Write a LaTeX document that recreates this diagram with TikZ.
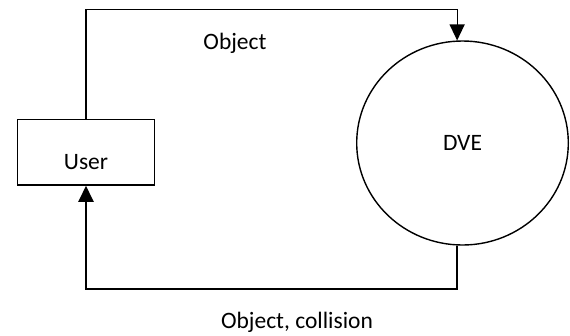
\documentclass[tikz,border=0pt]{standalone}
\usepackage{fontspec}
\setmainfont{Carlito}
\usetikzlibrary{arrows.meta,shapes.geometric}
\begin{document}
\begin{tikzpicture}[x=1pt,y=-1pt,
  every node/.style={font=\fontsize{23.5}{28}\selectfont},
  box/.style={draw,line width=1.4pt,rectangle,inner sep=0pt,
    minimum width=136.6pt,text height=49.7pt,text depth=16pt},
  world/.style={draw,line width=1.4pt,ellipse,inner sep=0pt,
    minimum width=211.6pt,minimum height=204pt},
  flow/.style={line width=1.2pt,-{Triangle[length=16pt,width=15pt]}},
  back/.style={line width=1.9pt,-{Triangle[length=16pt,width=15pt]}},
  tag/.style={inner sep=0pt}]
  \useasboundingbox (0,0) rectangle (570,335);

  % the two parties
  \node[box] (user) at (86,152.2) {User};
  \node[world] (dve) at (462.5,143) {DVE};

  % levels of the two loops
  \coordinate (toprun) at (0,9.3);
  \coordinate (botrun) at (0,289);

  % user sends objects into the environment
  \draw[flow] (user.north) |- (toprun -| dve.93) -- (dve.93);
  % environment answers with objects and collisions
  \draw[back] (dve.267) -- (botrun -| dve.267) -| (user.south);

  \node[tag] (lobj) at (235,43) {Object};
  \node[tag] (lcol) at (297,322) {Object, collision};
\end{tikzpicture}
\end{document}
